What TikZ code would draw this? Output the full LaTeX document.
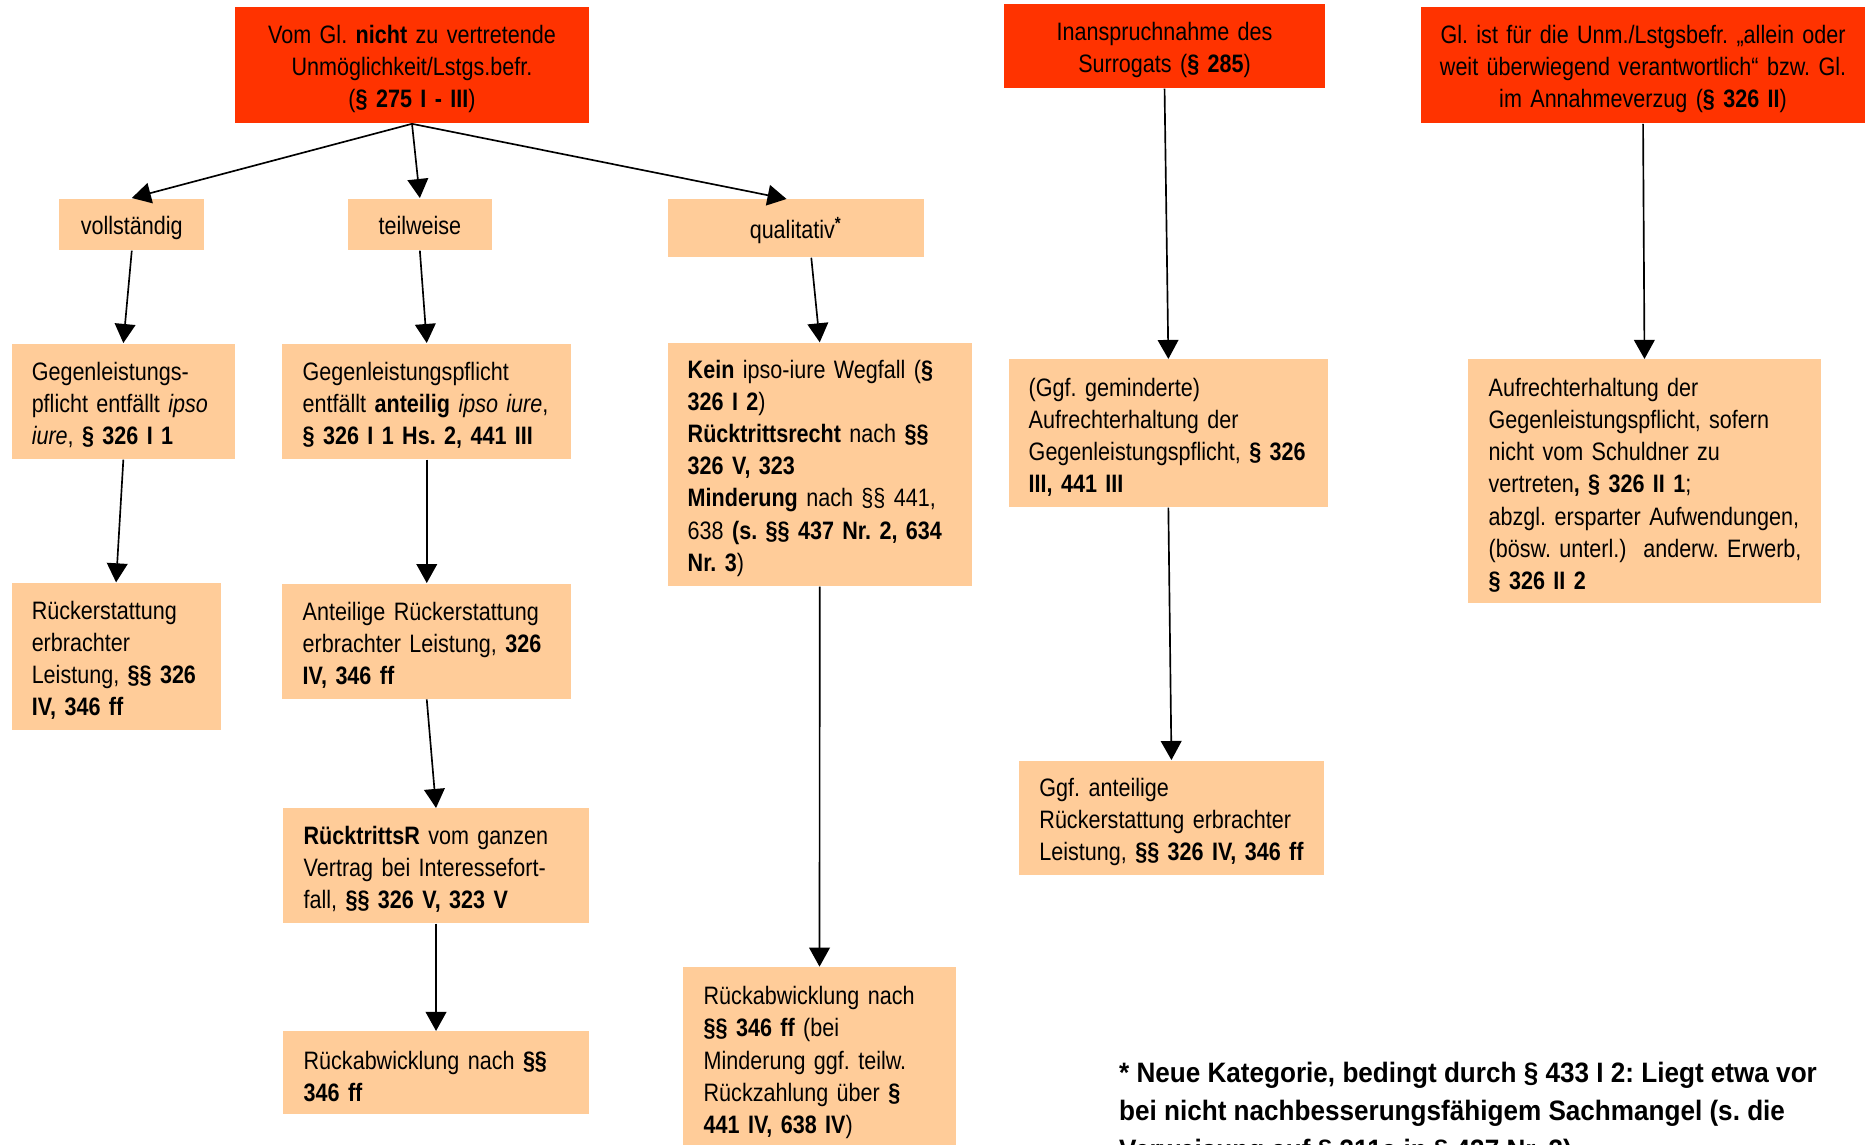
\documentclass[tikz,border=0pt]{standalone}
\usepackage{fontspec}
\setmainfont{Liberation Sans}[FakeStretch=0.855]
\newfontfamily\fussfont{Liberation Sans}[FakeStretch=0.93]
\usetikzlibrary{arrows.meta,positioning}
\definecolor{rot}{RGB}{255,51,0}
\definecolor{pfirsich}{RGB}{255,204,153}
\frenchspacing
\tikzset{
	>={Triangle[length=8pt,width=8.7pt]},
	kopf/.style={
		rectangle,
		fill=rot,
		inner sep=0pt,
		align=center,
		anchor=north west,
		text height=10.9pt,
		font=\fontsize{10.6}{13.5}\selectfont},
	zweig/.style={
		rectangle,
		fill=pfirsich,
		inner sep=0pt,
		align=center,
		anchor=north west,
		text height=10.9pt,
		text depth=2.3pt,
		font=\fontsize{10.6}{13.5}\selectfont},
	punkt/.style={
		rectangle,
		fill=pfirsich,
		inner xsep=8.5pt,
		inner ysep=0pt,
		align=left,
		anchor=north west,
		text height=10.9pt,
		execute at begin node={\rightskip=0pt plus 1fil minus 20pt},
		font=\fontsize{10.6}{13.5}\selectfont},
	line/.style={draw, line width=0.7pt, ->},
	fussnote/.style={
		align=left,
		anchor=north west,
		inner sep=0pt,
		font=\fussfont\bfseries\fontsize{11.8}{16.2}\selectfont},
}

\begin{document}
\begin{tikzpicture}
	[x=0.5pt, y=-0.5pt]
\useasboundingbox (0,0) rectangle (1568,962);

% Ausgangslagen
\node[kopf, text width=148.5pt, minimum height=48.7pt] (unm) at (197.5,5.9)
	{Vom Gl. \textbf{nicht} zu vertretende\\Unmöglichkeit/Lstgs.befr.\\(\textbf{§ 275 I - III})};
\node[kopf, text width=135.2pt, minimum height=35.5pt] (surr) at (843.5,2.8)
	{Inanspruchnahme des\\Surrogats (\textbf{§ 285})};
\node[kopf, text width=187pt, minimum height=48.7pt] (glverz) at (1194,5.9)
	{Gl. ist für die Unm./Lstgsbefr. „allein oder\\weit überwiegend verantwortlich“ bzw. Gl.\\im Annahmeverzug (\textbf{§ 326 II})};

\node[zweig, minimum width=60.9pt, minimum height=21.7pt] (voll) at (49.5,166.5) {vollständig};
\node[zweig, minimum width=60.7pt, minimum height=21.7pt] (teil) at (291.9,166.5) {teilweise};
\node[zweig, minimum width=107.9pt, minimum height=24.3pt] (qual) at (560.8,167.3) {qualitativ\textsuperscript{\textbf{*}}};

% vollstaendig
\node[punkt, text width=77pt, minimum height=48.6pt] (vollgeg) at (9.3,288.4)
	{Gegenleistungs-\\pflicht entfällt \textit{ipso}\\\textit{iure}, \textbf{§ 326 I 1}};
\node[punkt, text width=70.9pt, minimum height=62pt] (vollrueck) at (9.3,489.6)
	{Rückerstattung\\erbrachter\\Leistung, \textbf{§§ 326}\\\textbf{IV, 346 ff}};

% teilweise
\node[punkt, text width=104.3pt, minimum height=48.6pt] (teilgeg) at (237.1,288.4)
	{Gegenleistungspflicht\\entfällt \textbf{anteilig} \textit{ipso iure},\\\textbf{§ 326 I 1 Hs. 2, 441 III}};
\node[punkt, text width=104.3pt, minimum height=48.5pt] (teilanteil) at (237.1,490.2)
	{Anteilige Rückerstattung\\erbrachter Leistung, \textbf{326}\\\textbf{IV, 346 ff}};
\node[punkt, text width=111.3pt, minimum height=48.2pt] (teilruecktritt) at (237.9,679.3)
	{\textbf{RücktrittsR} vom ganzen\\Vertrag bei Interessefort-\\fall, \textbf{§§ 326 V, 323 V}};
\node[punkt, text width=111.3pt, minimum height=34.6pt] (teilrueckab) at (237.9,866.8)
	{Rückabwicklung nach \textbf{§§}\\\textbf{346 ff}};

% qualitativ
\node[punkt, text width=111pt, minimum height=102.3pt] (qualkein) at (560.8,287.8)
	{\textbf{Kein} ipso-iure Wegfall (\textbf{§}\\\textbf{326 I 2})\\\textbf{Rücktrittsrecht} nach \textbf{§§}\\\textbf{326 V, 323}\\\textbf{Minderung} nach §§ 441,\\638 \textbf{(s. §§ 437 Nr. 2, 634}\\\textbf{Nr. 3})};
\node[punkt, text width=97.4pt, minimum height=77pt] (qualrueckab) at (574.2,812.7)
	{Rückabwicklung nach\\\textbf{§§ 346 ff} (bei\\Minderung ggf. teilw.\\Rückzahlung über \textbf{§}\\\textbf{441 IV, 638 IV})};

% Surrogat
\node[punkt, text width=117.4pt, minimum height=62.1pt] (surrauf) at (847.5,301.8)
	{(Ggf. geminderte)\\Aufrechterhaltung der\\Gegenleistungspflicht, \textbf{§ 326}\\\textbf{III, 441 III}};
\node[punkt, text width=111pt, minimum height=48.2pt] (surranteil) at (856.5,639)
	{Ggf. anteilige\\Rückerstattung erbrachter\\Leistung, \textbf{§§ 326 IV, 346 ff}};

% Annahmeverzug
\node[punkt, text width=131pt, minimum height=102.5pt] (glauf) at (1234.2,301.8)
	{Aufrechterhaltung der\\Gegenleistungspflicht, sofern\\nicht vom Schuldner zu\\vertreten\textbf{, § 326 II 1};\\abzgl. ersparter Aufwendungen,\\(bösw. unterl.)\ \ anderw. Erwerb,\\\textbf{§ 326 II 2}};

\node[fussnote] (fuss) at (940.5,892.5)
	{* Neue Kategorie, bedingt durch § 433 I 2: Liegt etwa vor\\bei nicht nachbesserungsfähigem Sachmangel (s. die\\Verweisung auf § 311a in § 437 Nr. 3)};

\draw[line] (unm.south) -- (voll.north);
\draw[line] (unm.south) -- (teil.north);
\draw[line] (unm.south) -- ([xshift=-3.9pt]qual.north);
\draw[line] (voll.south) -- (vollgeg.north);
\draw[line] (vollgeg.south) -- (vollrueck.north);
\draw[line] (teil.south) -- (teilgeg.north);
\draw[line] (teilgeg.south) -- (teilanteil.north);
\draw[line] (teilanteil.south) -- (teilruecktritt.north);
\draw[line] (teilruecktritt.south) -- (teilrueckab.north);
\draw[line] ([xshift=6.5pt]qual.south) -- (qualkein.north);
\draw[line] (qualkein.south) -- (qualrueckab.north);
\draw[line] (surr.south) -- (surrauf.north);
\draw[line] (surrauf.south) -- (surranteil.north);
\draw[line] (glverz.south) -- (glauf.north);
\end{tikzpicture}
\end{document}
